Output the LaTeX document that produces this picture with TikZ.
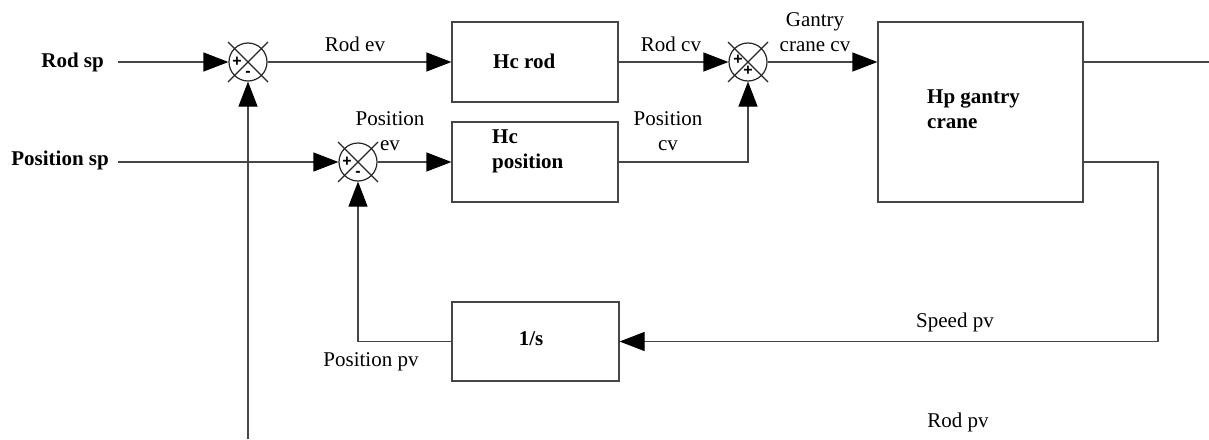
\documentclass[tikz,border=0pt]{standalone}
\usepackage{fontspec}
\setmainfont{Liberation Serif}
\newfontfamily\signfont{Liberation Sans}
\usetikzlibrary{arrows.meta,calc}
\definecolor{gc}{RGB}{70,70,70}
\begin{document}
\begin{tikzpicture}[x=1pt,y=-1pt,
  every node/.style={font=\fontsize{21}{25}\selectfont},
  blk/.style={draw=gc, line width=1.2pt, rectangle, inner sep=0},
  sumj/.style={draw=black!85, line width=1.2pt, circle, minimum size=38pt, inner sep=0},
  wire/.style={draw=gc, line width=1.2pt},
  sig/.style={wire, -{Triangle[length=25pt,width=19pt,color=black]}},
  lbl/.style={inner sep=0, align=center},
  btxt/.style={inner sep=0, anchor=west, align=left, font=\bfseries\fontsize{21}{25}\selectfont},
  sgn/.style={inner sep=0, font=\signfont\bfseries\fontsize{16}{16}\selectfont}]
\useasboundingbox (0,0) rectangle (1209,439);

% blocks
\node[blk, minimum width=166pt, minimum height=80pt] (hcrod) at (535,62) {};
\node[blk, minimum width=166pt, minimum height=80pt] (hcpos) at (535,162) {};
\node[blk, minimum width=205pt, minimum height=180pt] (hp) at (980.5,112) {};
\node[blk, minimum width=167pt, minimum height=79pt] (integ) at (535.5,341.5) {};

\node[btxt] (thcrod) at (493,61) {Hc rod};
\node[btxt, anchor=north west] (thcpos) at (492,130) {Hc\\position};
\node[btxt, anchor=north west] (thp) at (927,90) {Hp gantry\\crane};
\node[inner sep=0, font=\bfseries\fontsize{21}{25}\selectfont] (tint) at (531,339) {1/s};

% summing junctions
\node[sumj] (s1) at (248,62) {};
\node[sumj] (s2) at (358,162) {};
\node[sumj] (s3) at (748,62) {};
\foreach \s in {s1,s2,s3}{
  \draw[wire, draw=black!85] ([shift={(-20,-20)}]\s.center) -- ([shift={(20,20)}]\s.center);
  \draw[wire, draw=black!85] ([shift={(-20,20)}]\s.center) -- ([shift={(20,-20)}]\s.center);
}
\node[sgn] (p1) at (237,62) {+};
\node[sgn] (m1) at (248,74) {-};
\node[sgn] (p2) at (347,162) {+};
\node[sgn] (m2) at (358,174) {-};
\node[sgn] (p3a) at (738,60) {+};
\node[sgn] (p3b) at (748,71) {+};

% free ends
\coordinate (rodsp) at (118,62);
\coordinate (possp) at (118,162);
\coordinate (out) at (1209,62);
\coordinate (spd) at (1083,162);
\coordinate (spdc) at (1158,162);
\coordinate (rodpv) at (248,439);

% connectors
\draw[sig] (rodsp) -- (s1.west);
\draw[sig] (s1.east) -- (hcrod.west);
\draw[sig] (hcrod.east) -- (s3.west);
\draw[sig] (s3.east) -- (hp.west |- s3);
\draw[wire] (hp.east |- out) -- (out);
\draw[sig] (possp) -- (s2.west);
\draw[sig] (s2.east) -- (hcpos.west);
\draw[sig] (hcpos.east) -| (s3.south);
\draw[sig] (spd) -- (spdc) |- (integ.east);
\draw[sig] (integ.west) -| (s2.south);
\draw[sig] (rodpv) -- (s1.south);

% labels
\node[inner sep=0, anchor=east, font=\bfseries\fontsize{21}{25}\selectfont] (lrodsp) at (104,62) {Rod sp};
\node[inner sep=0, anchor=east, font=\bfseries\fontsize{21}{25}\selectfont] (lpossp) at (109,160) {Position sp};
\node[lbl] (lrodev) at (355,44) {Rod ev};
\node[lbl] (lrodcv) at (671,44) {Rod cv};
\node[lbl] (lgcv) at (815,32) {Gantry\\crane cv};
\node[lbl] (lposev) at (390,131) {Position\\ev};
\node[lbl] (lposcv) at (668,131) {Position\\cv};
\node[lbl] (lspd) at (955,322) {Speed pv};
\node[lbl] (lrodpv) at (958,422) {Rod pv};
\node[lbl] (lpospv) at (371,362) {Position pv};
\end{tikzpicture}
\end{document}
